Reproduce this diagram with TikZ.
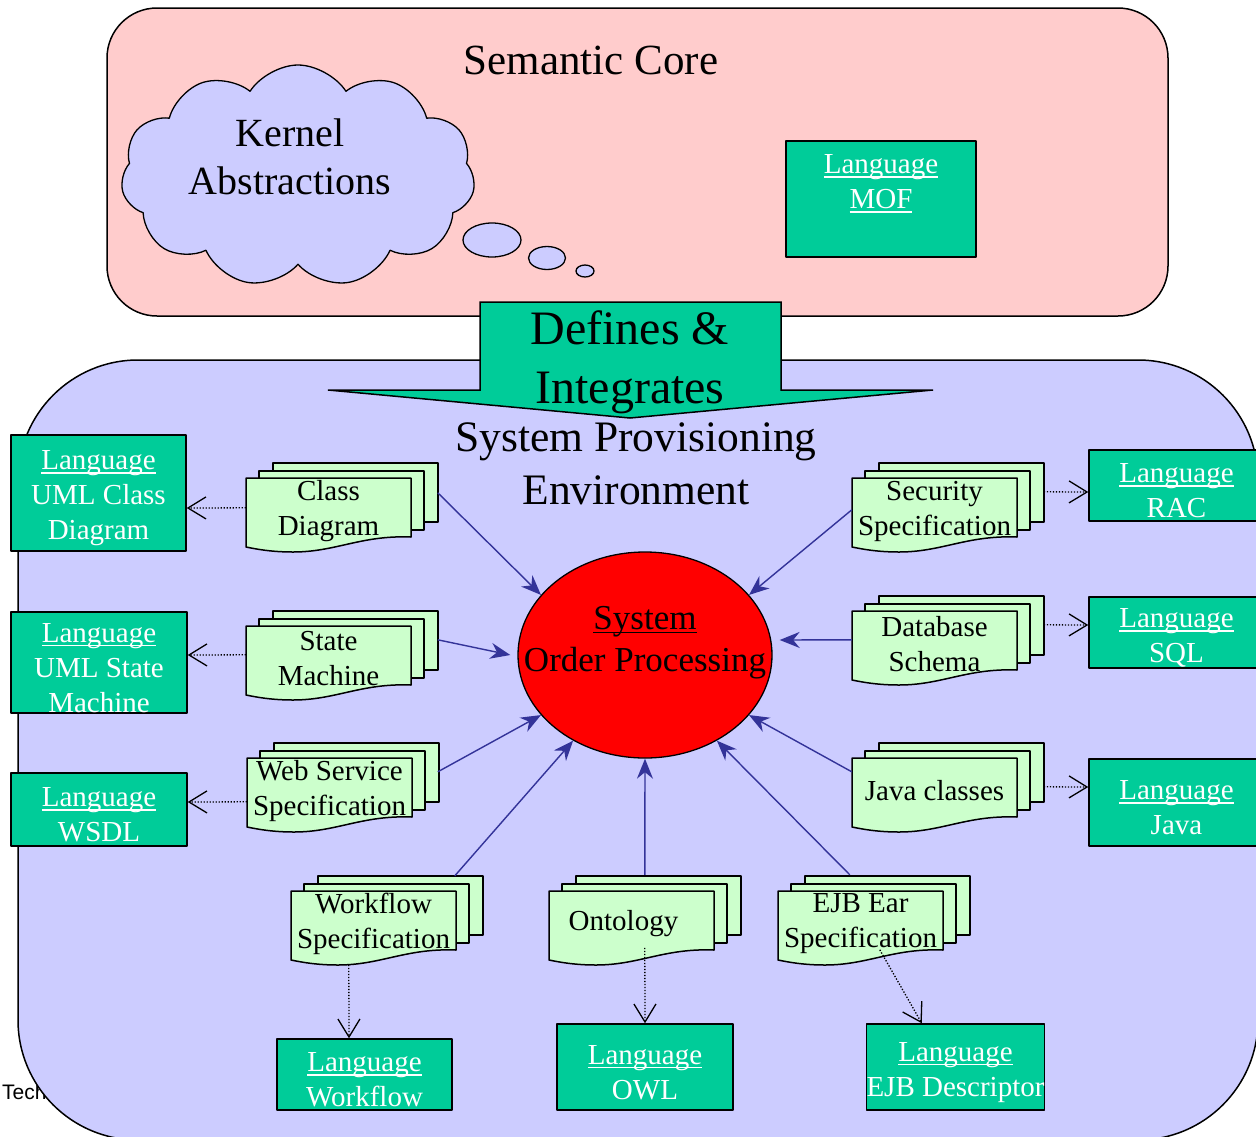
\documentclass[tikz,border=0pt]{standalone}
\usepackage{fontspec}
\setmainfont{Liberation Serif}
\newfontfamily\arialfont{Liberation Sans}
\usetikzlibrary{arrows.meta,calc,shapes.geometric,shapes.symbols}
\definecolor{corepink}{HTML}{FFCCCC}
\definecolor{envblue}{HTML}{CCCCFF}
\definecolor{langgreen}{HTML}{00CC99}
\definecolor{docgreen}{HTML}{CCFFCC}
\definecolor{feedblue}{HTML}{333399}
\newcommand{\fsz}[2]{\fontsize{#1}{#2}\selectfont}
\newsavebox{\ulbox}
\newcommand{\ulword}[1]{\sbox{\ulbox}{#1}\rlap{\rule[-4pt]{\wd\ulbox}{1.6pt}}\usebox{\ulbox}}
\newcommand{\langword}{\rule{0pt}{30pt}\ulword{Language}}
\tikzset{
  langbox/.style={draw,line width=1.5pt,fill=langgreen,text=white,align=center,inner sep=0pt,font=\fsz{29}{35}},
  docpage/.style={draw,line width=1.5pt,fill=docgreen},
  doctext/.style={minimum width=165pt,minimum height=66pt,inner sep=0pt,align=center,font=\fsz{29}{35}},
  feed/.style={draw=feedblue,line width=1.4pt,-{Stealth[length=20pt,width=16pt]}},
  maps/.style={line width=1.3pt,dash pattern=on 1.3pt off 1.7pt,-{Straight Barb[length=18pt,width=22pt]}}
}
% stack of three pages, #2,#3 = top left of the front page
\newcommand{\docstack}[4]{%
  \begin{scope}[shift={(#2,#3)}]
    \draw[docpage] (27,-15) rectangle (192,44);
    \draw[docpage] (13,-7) rectangle (178,52);
    \draw[docpage] (0,0) -- (165,0) -- (165,59) .. controls (115,57) and (90,74) .. (47,74)
      .. controls (25,74) and (10,71) .. (0,69) -- cycle;
    \node[doctext] (#1) at (82.5,33) {#4};
  \end{scope}}
\begin{document}
\begin{tikzpicture}[x=1pt,y=-1pt,line join=round]
  \useasboundingbox (0,0) rectangle (1256,1136);
  \clip (0,0) rectangle (1256,1136);
  % the two areas
  \draw[line width=1.5pt,fill=corepink,rounded corners=50pt] (107,8) rectangle (1168,316);
  \node[font=\arialfont\fsz{21}{25},anchor=west,inner sep=0pt] (techlabel) at (2,1092) {Tech};
  \draw[line width=1.5pt,fill=envblue,rounded corners=120pt] (18,360) rectangle (1258,1140);
  % block arrow
  \draw[line width=1.5pt,fill=langgreen,line join=miter] (480,302) -- (781,302) -- (781,390) -- (933,390)
    -- (630,418) -- (328,390) -- (480,390) -- cycle;
  \node[font=\fsz{48}{59},align=center] (defines) at (630,362) {Defines \&\\Integrates};
  \node[font=\fsz{43.5}{53},align=center] (envtitle) at (636,464) {System Provisioning\\Environment};
  % semantic core
  \node[font=\fsz{43}{50}] (coretitle) at (591,60) {Semantic Core};
  \node[cloud,cloud puffs=11,cloud puff arc=115,aspect=1.6,draw,line width=1.3pt,fill=envblue,
    minimum width=354pt,minimum height=222pt,inner sep=0pt] (kernel) at (298,176) {};
  \node[font=\fsz{40}{48},align=center] (kerneltext) at (290,157) {Kernel\\Abstractions};
  \draw[line width=1.3pt,fill=envblue] (492,240) ellipse [x radius=29pt,y radius=17pt]
    (547,258) ellipse [x radius=18.5pt,y radius=11.5pt] (585,271) ellipse [x radius=9pt,y radius=6pt];
  \node[langbox,minimum width=190pt,minimum height=116pt] (moflang) at (881,199) {\langword\\\ulword{MOF}\\\strut};
  % specifications
  \docstack{classdiag}{246}{478}{Class\\Diagram}
  \docstack{statemach}{246}{626}{State\\Machine}
  \docstack{websvc}{247}{758}{Web Service\\Specification}
  \docstack{workflow}{291}{891}{Workflow\\Specification}
  \docstack{ontology}{549}{891}{Ontology\hspace*{16pt}}
  \docstack{ejbear}{778}{891}{EJB Ear\\Specification}
  \docstack{security}{852}{478}{Security\\Specification}
  \docstack{dbschema}{852}{611}{Database\\Schema}
  \docstack{javacls}{852}{758}{Java classes}
  % languages
  \node[langbox,minimum width=175pt,minimum height=116pt] (umlclass) at (98.5,493) {\langword\\UML Class\\Diagram};
  \node[langbox,minimum width=176pt,minimum height=101pt] (umlstate) at (99,662.5) {\langword\\UML State\\Machine};
  \node[langbox,minimum width=176pt,minimum height=73pt] (wsdllang) at (99,809.5) {\langword\\WSDL};
  \node[langbox,minimum width=175pt,minimum height=71pt] (raclang) at (1176.5,485.5) {\langword\\RAC};
  \node[langbox,minimum width=175pt,minimum height=71pt] (sqllang) at (1176.5,632.5) {\langword\\SQL};
  \node[langbox,minimum width=175pt,minimum height=87pt] (javalang) at (1176.5,802.5) {\langword\\Java};
  \node[langbox,minimum width=175pt,minimum height=71pt] (wflang) at (364.5,1074.5) {\langword\\Workflow};
  \node[langbox,minimum width=176pt,minimum height=86pt] (owllang) at (645,1067) {\langword\\OWL};
  \node[langbox,minimum width=175pt,minimum height=86pt] (ejblang) at (955.5,1067) {\langword\\EJB Descriptor};
  % the system
  \node[ellipse,draw,line width=1.3pt,fill=red,minimum width=254pt,minimum height=206pt] (core) at (645,655) {};
  \node[font=\fsz{35}{42},align=center] (coretext) at (645,642.5) {\ulword{System}\\Order Processing};
  % specifications feed the system
  \draw[feed] ($(classdiag.north west)+(192,15)$) -- (core.150);
  \draw[feed] ($(statemach.north west)+(192,14)$) -- ($(core.west)+(-7,0)$);
  \draw[feed] ($(websvc.north west)+(191,14)$) -- (core.210);
  \draw[feed] ($(workflow.north west)+(164,-15)$) -- (core.230);
  \draw[feed] ($(ontology.north west)+(96,-16)$) -- (core.south);
  \draw[feed] ($(ejbear.north west)+(72,-16)$) -- (core.310);
  \draw[feed] ($(javacls.north west)+(0,14)$) -- (core.330);
  \draw[feed] ($(dbschema.north west)+(0,29)$) -- ($(core.east)+(7,-15)$);
  \draw[feed] ($(security.north west)+(0,32)$) -- (core.30);
  % specifications to languages
  \draw[maps] ($(classdiag.north west)+(0,30)$) -- ($(umlclass.east)+(0,15)$);
  \draw[maps] ($(statemach.north west)+(0,29)$) -- ($(umlstate.east)+(0,-7.5)$);
  \draw[maps] ($(websvc.north west)+(0,44)$) -- ($(wsdllang.east)+(0,-7.5)$);
  \draw[maps] ($(security.north west)+(192,14)$) -- ($(raclang.west)+(0,6.5)$);
  \draw[maps] ($(dbschema.north west)+(192,14)$) -- ($(sqllang.west)+(0,-7.5)$);
  \draw[maps] ($(javacls.north west)+(192,29)$) -- ($(javalang.west)+(0,-15.5)$);
  \draw[maps] ($(workflow.north west)+(58,74)$) -- ($(wflang.north)+(-15.5,0)$);
  \draw[maps] ($(ontology.north west)+(96,57)$) -- (owllang.north);
  \draw[maps] ($(ejbear.north west)+(102,59)$) -- ($(ejblang.north west)+(56,0)$);
\end{tikzpicture}
\end{document}
